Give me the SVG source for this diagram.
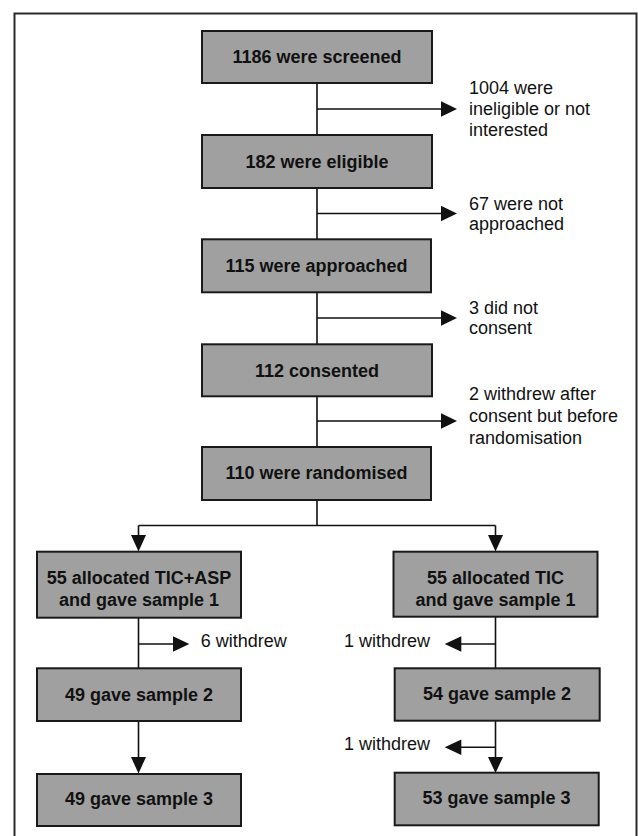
<svg xmlns="http://www.w3.org/2000/svg" width="638" height="836" viewBox="0 0 638 836">
<style>
.box{fill:#a0a0a0;stroke:#1a1a1a;stroke-width:2}
.bt{font-family:"Liberation Sans",Arial,sans-serif;font-size:18px;font-weight:bold;fill:#111;text-anchor:middle}
.st{font-family:"Liberation Sans",Arial,sans-serif;font-size:18px;fill:#111}
.ln{stroke:#111;stroke-width:1.6;fill:none}
.ah{fill:#111}
</style>
<rect x="14.5" y="13.5" width="622" height="840" fill="#fff" stroke="#2a2a2a" stroke-width="2"/>
<g id="connectors">
<path class="ln" d="M317 83V135M317 188V239M317 292V344M317 396V447M317 500V525.5"/>
<path class="ln" d="M317 109H441M317 213.5H441M317 318H441M317 421H441"/>
<polygon class="ah" points="441,101.2 457,109 441,116.8"/>
<polygon class="ah" points="441,205.7 457,213.5 441,221.3"/>
<polygon class="ah" points="441,310.2 457,318 441,325.8"/>
<polygon class="ah" points="441,413.2 457,421 441,428.8"/>
<path class="ln" d="M138.5 525.5H495.5M138.5 525.5V536M495.5 525.5V536"/>
<polygon class="ah" points="131,535 146,535 138.5,551.5"/>
<polygon class="ah" points="488,535 503,535 495.5,551.5"/>
<path class="ln" d="M138.5 617.7V668.3M138.5 644H173"/>
<polygon class="ah" points="173,636.2 189.3,644 173,651.8"/>
<path class="ln" d="M138.5 721V758"/>
<polygon class="ah" points="131,757 146,757 138.5,773.5"/>
<path class="ln" d="M495.5 616.7V668.3M495.5 644H461"/>
<polygon class="ah" points="461.3,636.2 444.7,644 461.3,651.8"/>
<path class="ln" d="M495.5 720.7V758M495.5 747.3H461"/>
<polygon class="ah" points="461.3,739.5 444.7,747.3 461.3,755.1"/>
<polygon class="ah" points="488,757 503,757 495.5,773"/>
</g>
<g id="screened"><rect class="box" x="202" y="31" width="230" height="52"/><text class="bt" x="317" y="62.5">1186 were screened</text></g>
<g id="eligible"><rect class="box" x="202" y="135" width="230" height="53"/><text class="bt" x="317" y="167.5">182 were eligible</text></g>
<g id="approached"><rect class="box" x="202" y="239.3" width="229" height="53"/><text class="bt" x="316.5" y="272">115 were approached</text></g>
<g id="consented"><rect class="box" x="202" y="344.3" width="230" height="52"/><text class="bt" x="317" y="376.5">112 consented</text></g>
<g id="randomised"><rect class="box" x="202" y="447" width="229" height="53"/><text class="bt" x="316.5" y="479.3">110 were randomised</text></g>
<g id="ineligible"><text class="st" x="469" y="94">1004 were</text><text class="st" x="469" y="115">ineligible or not</text><text class="st" x="469" y="136">interested</text></g>
<g id="notapproached"><text class="st" x="469" y="210">67 were not</text><text class="st" x="469" y="230">approached</text></g>
<g id="notconsent"><text class="st" x="469" y="313.5">3 did not</text><text class="st" x="469" y="334">consent</text></g>
<g id="withdrew2"><text class="st" x="469" y="400">2 withdrew after</text><text class="st" x="469" y="422">consent but before</text><text class="st" x="469" y="443.5">randomisation</text></g>
<g id="ticasp1"><rect class="box" x="37" y="551.7" width="204" height="66"/><text class="bt" x="139" y="583.5">55 allocated TIC+ASP</text><text class="bt" x="139" y="606">and gave sample 1</text></g>
<g id="tic1"><rect class="box" x="393.5" y="551.7" width="204" height="65"/><text class="bt" x="495.5" y="583.5">55 allocated TIC</text><text class="bt" x="495.5" y="606">and gave sample 1</text></g>
<g id="w6"><text class="st" x="200.7" y="646.5">6 withdrew</text></g>
<g id="w1a"><text class="st" x="430" y="646.5" text-anchor="end">1 withdrew</text></g>
<g id="ticasp2"><rect class="box" x="37" y="668.3" width="204" height="52.7"/><text class="bt" x="139" y="701">49 gave sample 2</text></g>
<g id="tic2"><rect class="box" x="394.7" y="668.3" width="205" height="52.4"/><text class="bt" x="497" y="699.5">54 gave sample 2</text></g>
<g id="w1b"><text class="st" x="430" y="750" text-anchor="end">1 withdrew</text></g>
<g id="ticasp3"><rect class="box" x="37" y="774" width="204" height="52"/><text class="bt" x="139" y="805">49 gave sample 3</text></g>
<g id="tic3"><rect class="box" x="394.7" y="772.7" width="204" height="52.6"/><text class="bt" x="496.5" y="803.5">53 gave sample 3</text></g>
</svg>
